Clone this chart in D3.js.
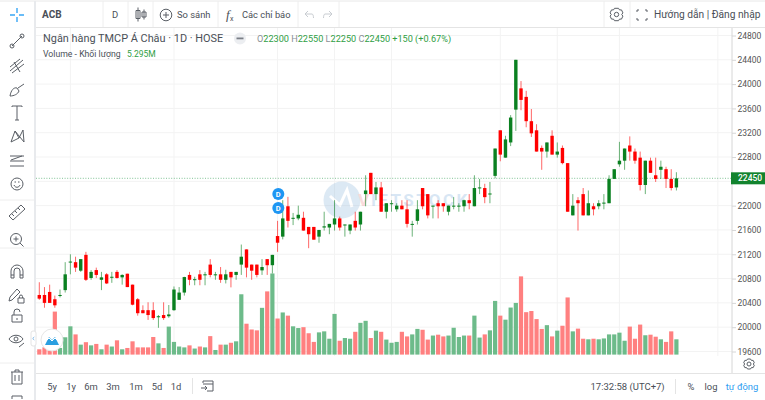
<!DOCTYPE html>
<html>
<head>
<meta charset="utf-8">
<script src="https://cdn.jsdelivr.net/npm/d3@7"></script>
<style>
  html, body { margin: 0; padding: 0; background: #fff; }
  svg { display: block; font-family: Roboto, "Liberation Sans", sans-serif; }
  .axis path, .axis line { stroke: #d6d6d6; }
  .axis text { fill: #555; font-family: Roboto, sans-serif; }
  .icon { fill: none; stroke: #5a5f66; stroke-width: 1; }
</style>
</head>
<body>
<svg id="chart" width="765" height="400"></svg>
<script>
const opens = [
  20530,20530,20580,20460,20520,20610,21070,21070,20930,21190,
  20810,20940,20780,20870,20820,20910,20820,20880,20700,20460,
  20280,20280,20280,20170,20200,20180,20280,20450,20570,20860,
  20780,20870,20860,21030,20860,20870,20780,20910,20860,21030,
  21280,21030,21030,20935,21120,21020,21500,21490,21990,21790,
  21790,21800,21650,21650,21490,21640,21640,21690,21790,21680,
  21590,21750,21690,22190,22540,22190,22300,21900,22030,21940,
  22000,21940,21690,21750,22290,22190,21990,22040,22040,21900,
  21990,21990,21990,22090,21990,22290,22290,22190,22490,23240,
  22790,23040,23580,23930,23790,23390,23240,22950,22890,23150,
  22840,22950,22700,21840,22090,22190,21840,21990,21990,22040,
  22040,22440,22680,22740,22990,22890,22790,22340,22740,22500,
  22590,22600,22440,22300
];
const highs = [
  20740,20660,20700,20520,20620,21070,21200,21160,21120,21240,
  20940,20980,20910,20890,20910,20940,20870,20880,20700,20480,
  20360,20410,20410,20200,20410,20365,20670,20660,20830,20910,
  20830,20940,20910,21120,20910,20990,20945,20910,20910,21360,
  21280,21030,21030,21120,21120,21190,21750,22090,22145,21880,
  22000,21900,21650,21650,21600,21900,21700,22090,21820,21690,
  21690,21900,21900,22500,22540,22390,22390,22040,22090,22040,
  22090,22090,21750,22090,22290,22190,22000,22090,22040,22000,
  22140,22040,22100,22190,22500,22440,22360,22390,22940,23240,
  23150,23490,24400,24050,23890,23590,23340,22990,23040,23240,
  23040,22990,22700,22190,22140,22290,22250,22040,22090,22190,
  22500,22600,23050,22940,23140,22940,22890,22740,22790,22790,
  22740,22640,22600,22550
];
const lows = [
  20450,20320,20400,20320,20490,20570,20870,20910,20910,20760,
  20780,20810,20610,20710,20730,20800,20700,20660,20360,20190,
  20230,20120,20120,19990,20120,20155,20270,20450,20520,20690,
  20690,20690,20690,20820,20780,20730,20720,20655,20780,20860,
  20820,20780,20820,20860,20860,20885,21240,21445,21640,21680,
  21760,21590,21300,21440,21390,21590,21530,21590,21590,21490,
  21530,21590,21590,21990,22190,22090,21900,21790,21900,21900,
  21940,21640,21490,21690,21940,21790,21790,21790,21900,21840,
  21940,21900,21900,21940,21990,22190,22040,22040,22450,22730,
  22790,22980,23230,23570,23290,23130,22890,22590,22790,22840,
  22790,22680,21900,21840,21590,21840,21840,21840,21940,21940,
  22040,22440,22640,22590,22740,22690,22250,22190,22540,22390,
  22440,22290,22250,22250
];
const closes = [
  20470,20400,20400,20360,20530,20870,21080,20980,21120,20780,
  20910,20860,20820,20720,20830,20810,20860,20660,20370,20230,
  20230,20200,20150,20180,20150,20210,20620,20570,20825,20780,
  20790,20780,20870,20860,20870,20780,20870,20820,20910,21160,
  20980,20930,20860,20990,21020,21190,21390,21790,21750,21800,
  21850,21590,21530,21440,21600,21660,21700,21790,21640,21690,
  21690,21640,21900,22250,22190,22300,21900,22040,22040,22000,
  21940,21700,21700,21940,21990,21840,22000,21990,21990,22000,
  22000,22000,22090,22040,22290,22300,22140,22200,22940,22840,
  23090,23450,24400,23740,23390,23190,22890,22890,23040,22840,
  22890,22700,21900,22000,22040,21840,22040,21940,22040,22050,
  22440,22600,22740,22940,22890,22740,22340,22740,22540,22440,
  22640,22440,22290,22450
];
// volume in millions of shares
const volumes = [
  1.84,2.53,1.73,14.9,2.3,6.0,9.8,7.0,3.45,4.3,
  3.2,3.7,1.84,3.45,2.8,4.95,1.84,2.3,4.6,2.5,
  2.5,2.5,6.1,3.9,2.3,9.7,4.4,2.8,2.5,3.2,
  2.1,2.8,2.5,6.4,1.6,3.45,3.45,4.1,4.6,20.9,
  10.7,8.7,8.4,16.2,21.9,28.1,12.5,14.6,13.5,9.8,
  9.2,9.5,7.4,4.4,7.7,8.05,5.5,14.1,4.8,5.75,
  5.5,7.9,11,11.7,5.75,8.3,7.9,5.2,4.1,4.4,
  7.9,6.3,7,8.9,8.6,5.2,6.6,6.9,6.3,6.6,
  9.3,6.1,6.6,6.6,13.5,5.9,7,8.4,18.6,13.5,
  12.1,16.3,17.9,27.1,14.7,15.1,12.3,8.9,10.2,6.3,
  8.3,10,19.8,8.05,9,5.5,5.3,5.5,5.3,5.6,
  7,7,7.6,4.8,9.7,5.5,10.4,6.7,6.9,6.2,
  5.3,4.4,8.05,5.295
];
const priceTicks = [19600,20000,20400,20800,21200,21600,22000,22400,22800,23200,23600,24000,24400,24800];
const timeTickIdx = [6,26,46,57,68,89,100,112,131];
const timeTickLabels = ['Tháng 4','Tháng 5','Tháng 6','16','Tháng 7','Tháng 8','16','Tháng 9','Tháng 10'];
const rangeLabels = ['5y','1y','6m','3m','1m','5d','1d'];
const lastPrice = 22450;

const UP = '#0a8020', DOWN = '#ff0000';
const UP_VOL = '#6dbb8a', DOWN_VOL = '#ff8080';

const svg = d3.select('#chart');
const x = d3.scaleLinear().domain([0, opens.length - 1]).range([39.3, 676.4]);
const y = d3.scaleLinear().domain([19600, 24800]).range([351.5, 35.5]);
const yVol = d3.scaleLinear().domain([0, 30]).range([354.6, 268]);

svg.append('defs').append('clipPath').attr('id', 'plot')
  .append('rect').attr('x', 36).attr('y', 28).attr('width', 696).attr('height', 328);

// grid
const grid = svg.append('g').attr('stroke', '#f3f3f3');
grid.selectAll('line.h').data(priceTicks).join('line').attr('class', 'h')
  .attr('x1', 36).attr('x2', 732).attr('y1', d => y(d)).attr('y2', d => y(d));
grid.selectAll('line.v').data(timeTickIdx).join('line').attr('class', 'v')
  .attr('x1', d => x(d)).attr('x2', d => x(d)).attr('y1', 28).attr('y2', 356);

// watermark
const wm = svg.append('g').attr('opacity', 0.3);
wm.append('circle').attr('cx', 342).attr('cy', 200).attr('r', 18.5).attr('fill', '#8fb8dc');
wm.append('path').attr('d', 'M330 196 L340 205 L347 190 L352 207').attr('fill', 'none').attr('stroke', '#fff').attr('stroke-width', 3);
wm.append('text').attr('x', 358).attr('y', 206).attr('font-size', 17).attr('font-weight', 700).attr('letter-spacing', 1.6).attr('fill', '#f08a8a').text('V');
wm.append('text').attr('x', 371).attr('y', 206).attr('font-size', 17).attr('font-weight', 700).attr('letter-spacing', 2.4).attr('fill', '#7fb0dc').text('IETSTOCK');

const plot = svg.append('g').attr('clip-path', 'url(#plot)');

// volume
const isUp = i => closes[i] >= opens[i];
plot.append('g').selectAll('rect').data(volumes).join('rect')
  .attr('x', (d, i) => x(i) - 2.1)
  .attr('width', 4.2)
  .attr('y', d => yVol(d))
  .attr('height', d => yVol(0) - yVol(d))
  .attr('fill', (d, i) => isUp(i) ? UP_VOL : DOWN_VOL);

// last price line
plot.append('line').attr('x1', 36).attr('x2', 732)
  .attr('y1', y(lastPrice)).attr('y2', y(lastPrice))
  .attr('stroke', '#3fa45e').attr('stroke-dasharray', '1 1.6').attr('opacity', 0.65);

// candles
const candles = plot.append('g').selectAll('g').data(opens).join('g');
candles.append('line')
  .attr('x1', (d, i) => x(i)).attr('x2', (d, i) => x(i))
  .attr('y1', (d, i) => y(highs[i])).attr('y2', (d, i) => y(lows[i]))
  .attr('stroke', (d, i) => isUp(i) ? UP : DOWN)
  .attr('stroke-opacity', 0.6);
candles.append('rect')
  .attr('x', (d, i) => x(i) - 1.7)
  .attr('width', 3.4)
  .attr('y', (d, i) => y(Math.max(opens[i], closes[i])))
  .attr('height', (d, i) => Math.max(1, Math.abs(y(opens[i]) - y(closes[i]))))
  .attr('fill', (d, i) => isUp(i) ? UP : DOWN);

// dividend markers
[194, 208].forEach(cy => {
  svg.append('circle').attr('cx', 278.3).attr('cy', cy).attr('r', 6).attr('fill', '#1e96f3');
  svg.append('text').attr('x', 278.3).attr('y', cy + 2.6).attr('text-anchor', 'middle')
    .attr('font-size', 7.5).attr('font-weight', 700).attr('fill', '#fff').text('D');
});

// price axis, the 22400 label sits under the last price tag
const yAxis = svg.append('g').attr('class', 'axis').attr('transform', 'translate(732,0)')
  .call(d3.axisRight(y).tickValues(priceTicks).tickSize(4)
    .tickFormat(d => d === 22400 ? '' : d3.format('d')(d)));
yAxis.select('.domain').remove();
yAxis.selectAll('text').attr('font-size', 8.5).attr('x', 5.5);
svg.append('line').attr('x1', 732).attr('x2', 732).attr('y1', 28).attr('y2', 373).attr('stroke', '#d6d6d6');

// last price label
svg.append('rect').attr('x', 731).attr('y', y(lastPrice) - 6).attr('width', 34).attr('height', 12).attr('fill', '#12832e');
svg.append('text').attr('x', 738).attr('y', y(lastPrice) + 3).attr('font-size', 8.5).attr('font-weight', 500).attr('fill', '#fff').text(lastPrice);

// time axis
svg.append('defs').append('clipPath').attr('id', 'timeclip')
  .append('rect').attr('x', 36).attr('y', 356).attr('width', 696).attr('height', 18);
const xAxis = svg.append('g').attr('class', 'axis').attr('clip-path', 'url(#timeclip)')
  .attr('transform', 'translate(0,356)')
  .call(d3.axisBottom(x).tickValues(timeTickIdx).tickSize(0)
    .tickFormat(d => timeTickLabels[timeTickIdx.indexOf(d)]));
xAxis.select('.domain').remove();
xAxis.selectAll('text').attr('font-size', 8.8).attr('y', 4).attr('dy', '0.71em');
svg.append('line').attr('x1', 36).attr('x2', 765).attr('y1', 373.5).attr('y2', 373.5).attr('stroke', '#e4e4e4');

// legend
svg.append('text').attr('x', 43).attr('y', 42).attr('font-size', 10.9).attr('fill', '#4a4f57')
  .text('Ngân hàng TMCP Á Châu · 1D · HOSE');
svg.append('circle').attr('cx', 240).attr('cy', 38.5).attr('r', 6).attr('fill', '#eceef1');
svg.append('rect').attr('x', 236.5).attr('y', 37.5).attr('width', 7).attr('height', 1.8).attr('fill', '#7a7f87');

const ohlc = svg.append('text').attr('x', 257).attr('y', 42).attr('font-size', 9.15).attr('fill', '#8a8f96');
[['O', '22300'], ['H', '22550'], ['L', '22250'], ['C', '22450']].forEach(([k, v]) => {
  ohlc.append('tspan').text(k);
  ohlc.append('tspan').attr('fill', '#2f9e44').text(v + ' ');
});
ohlc.append('tspan').attr('fill', '#2f9e44').text('+150 (+0.67%)');
svg.append('text').attr('x', 43).attr('y', 57).attr('font-size', 8.7).attr('fill', '#4a4f57').text('Volume - Khối lượng');
svg.append('text').attr('x', 127).attr('y', 57).attr('font-size', 8.5).attr('fill', '#2f9e44').text('5.295M');

// top bar
svg.append('line').attr('x1', 0).attr('x2', 765).attr('y1', 1).attr('y2', 1).attr('stroke', '#e8e8e8');
svg.append('line').attr('x1', 36).attr('x2', 765).attr('y1', 27.5).attr('y2', 27.5).attr('stroke', '#e4e4e4');
[103, 128, 153, 218, 298, 339, 604, 630].forEach(px => {
  svg.append('line').attr('x1', px).attr('x2', px).attr('y1', 1).attr('y2', 27).attr('stroke', '#eeeeee');
});
const topText = (t, tx, size, w) => svg.append('text').attr('x', tx).attr('y', 18).attr('font-size', size)
  .attr('font-weight', w || 400).attr('fill', '#4a4f57').text(t);
topText('ACB', 42, 10, 700);
topText('D', 112, 9.5);
topText('So sánh', 177, 9.4);
topText('Các chỉ báo', 242, 9.3);
topText('Hướng dẫn | Đăng nhập', 654, 10.2);

const icon = (tx, ty, d, color) => svg.append('path')
  .attr('transform', `translate(${tx},${ty})`).attr('d', d).attr('class', 'icon')
  .style('stroke', color || null);
// candles icon, compare, fx, undo, redo, gear, fullscreen
icon(141, 14.5, 'M-3 -7V7M-5 -4H-1V4H-5ZM3 -5V5M1 -2.5H5V2.5H1Z');
svg.append('circle').attr('cx', 166).attr('cy', 15).attr('r', 5.8).attr('class', 'icon');
icon(166, 15, 'M-3 0H3M0 -3V3');
svg.append('text').attr('x', 226).attr('y', 19).attr('font-size', 13).attr('font-style', 'italic').attr('font-family', 'Liberation Serif').attr('fill', '#4a4f57').text('f');
svg.append('text').attr('x', 230).attr('y', 21).attr('font-size', 7).attr('fill', '#4a4f57').text('x');
icon(309, 15, 'M-4 -1L-1 -4M-4 -1L-1 2M-4 -1H3C4 -1 4.5 1 4.5 3', '#c8ccd1');
icon(328, 15, 'M4 -1L1 -4M4 -1L1 2M4 -1H-3C-4 -1 -4.5 1 -4.5 3', '#c8ccd1');
svg.append('circle').attr('cx', 616.5).attr('cy', 14.5).attr('r', 2.2).attr('class', 'icon');
icon(616.5, 14.5, 'M-2 -6.2H2L3 -4.6L5 -4.6L6.4 -1.6L5.2 0L6.4 1.6L5 4.6L3 4.6L2 6.2H-2L-3 4.6L-5 4.6L-6.4 1.6L-5.2 0L-6.4 -1.6L-5 -4.6L-3 -4.6Z');
icon(642, 15, 'M-5 -3V-5H-3M3 -5H5V-3M5 3V5H3M-3 5H-5V3');

// left toolbar
svg.append('rect').attr('x', 34).attr('y', 1).attr('width', 2).attr('height', 399).attr('fill', '#e8eaed');
[200, 248, 363].forEach(sy => {
  svg.append('line').attr('x1', 0).attr('x2', 34).attr('y1', sy).attr('y2', sy).attr('stroke', '#eeeeee');
});
icon(17, 15, 'M-7 0H-2M2 0H7M0 -7V-2M0 2V7', '#38a6f5').style('stroke-width', 1.4);
icon(17, 41, 'M-5 5L5 -5M-7 5a2 2 0 1 0 4 0a2 2 0 1 0 -4 0M3 -5a2 2 0 1 0 4 0a2 2 0 1 0 -4 0');
icon(17, 66, 'M-7 5L6 -6M-7 1L3 -7M-5 7L7 -2M-3 -4L3 6');
icon(17, 90, 'M-7 6C-6 0 -3 -3 0 -2L2 1C1 4 -3 6 -7 6ZM1 -2L7 -6');
icon(17, 113, 'M-5 -6V-7H5V-6M0 -7V7M-2 7H2');
icon(17, 136, 'M-6 6L-2 -5L2 2L6 -6L7 6M-6 6L2 2M-2 -5L7 6');
icon(17, 161, 'M-7 -5H7M-7 0H7M-7 5H7M-6 -1L5 -5');
svg.append('circle').attr('cx', 17).attr('cy', 184).attr('r', 6).attr('class', 'icon');
icon(17, 184, 'M-3 1C-2 4 2 4 3 1M-2.5 -2H-1M1 -2H2.5');
icon(17, 212, 'M-8 4L4 -7L8 -3L-4 8ZM-5 2L-3 4M-2 -1L0 1M1 -4L3 -2');
svg.append('circle').attr('cx', 16).attr('cy', 239).attr('r', 5.5).attr('class', 'icon');
icon(16, 239, 'M-2.5 0H2.5M0 -2.5V2.5M4 4L7.5 7.5');
icon(17, 272, 'M-6 6V-1A6 6 0 0 1 6 -1V6H3V-1A3 3 0 0 0 -3 -1V6ZM-6 3H-3M3 3H6');
icon(15, 295, 'M-6 6L-5 2L2 -6L5 -3L-3 5ZM3 3H9V8H3ZM4.5 3V1.5A1.5 1.5 0 0 1 7.5 1.5V3');
icon(17, 316, 'M-5 -1H5V6H-5ZM-3 -1V-4A3 3 0 0 1 3 -4M0 2V4');
icon(16, 340, 'M-7 -1C-4 -6 4 -6 7 -1C4 4 -4 4 -7 -1ZM2 -1a2 2 0 1 1 -4 0a2 2 0 1 1 4 0M3 7L8 3');
icon(17, 377, 'M-6 -5H6M-2 -5V-7H2V-5M-5 -5V7H5V-5M-2 -2V4M2 -2V4');
icon(17, 397, 'M-5 2V-1H5V2');
// collapse tab
svg.append('rect').attr('x', 31).attr('y', 331).attr('width', 5).attr('height', 15).attr('rx', 2).attr('fill', '#fff').attr('stroke', '#e4e4e4');
icon(33.5, 338.5, 'M0.8 -1.5L-0.8 0L0.8 1.5', '#7fb8e8');

// bottom-left logo
svg.append('circle').attr('cx', 52).attr('cy', 340).attr('r', 11).attr('fill', '#fff').attr('stroke', '#e6e6e6');
svg.append('path').attr('d', 'M45 345 L49 337 L52 340 L55 337 L59 345 Z').attr('fill', '#2b9fe0');
svg.append('path').attr('d', 'M46 341 L49 338 L52 341 L55 338 L58 341').attr('fill', 'none').attr('stroke', '#fff').attr('stroke-width', 1);

// bottom bar
const rangeX = d3.scaleOrdinal().domain(rangeLabels).range([52, 71, 91, 113, 136, 157, 176]);
svg.append('g').selectAll('text').data(rangeLabels).join('text')
  .attr('x', d => rangeX(d)).attr('y', 390).attr('text-anchor', 'middle')
  .attr('font-size', 9.4).attr('fill', '#4a4f57').text(d => d);
svg.append('line').attr('x1', 192.5).attr('x2', 192.5).attr('y1', 378).attr('y2', 394).attr('stroke', '#e4e4e4');
icon(208, 386, 'M-5 -3V-5H5V5H-1M-5 -2H5M-7 2H-1M-3 0L-1 2L-3 4');
svg.append('line').attr('x1', 675.5).attr('x2', 675.5).attr('y1', 379).attr('y2', 394).attr('stroke', '#e4e4e4');
svg.append('text').attr('x', 590.5).attr('y', 390).attr('font-size', 9.5).attr('fill', '#4a4f57').text('17:32:58 (UTC+7)');
svg.append('text').attr('x', 691).attr('y', 390).attr('text-anchor', 'middle').attr('font-size', 9.4).attr('fill', '#4a4f57').text('%');
svg.append('text').attr('x', 711).attr('y', 390).attr('text-anchor', 'middle').attr('font-size', 9.4).attr('fill', '#4a4f57').text('log');
svg.append('text').attr('x', 742).attr('y', 390).attr('text-anchor', 'middle').attr('font-size', 9.4).attr('fill', '#2d9cf0').text('tự động');
svg.append('circle').attr('cx', 749).attr('cy', 364).attr('r', 2).attr('class', 'icon');
icon(749, 364, 'M-1.5 -5H1.5L2.4 -3.6L4.2 -3.6L5.3 -1.2L4.2 0L5.3 1.2L4.2 3.6L2.4 3.6L1.5 5H-1.5L-2.4 3.6L-4.2 3.6L-5.3 1.2L-4.2 0L-5.3 -1.2L-4.2 -3.6L-2.4 -3.6Z');
</script>
</body>
</html>
